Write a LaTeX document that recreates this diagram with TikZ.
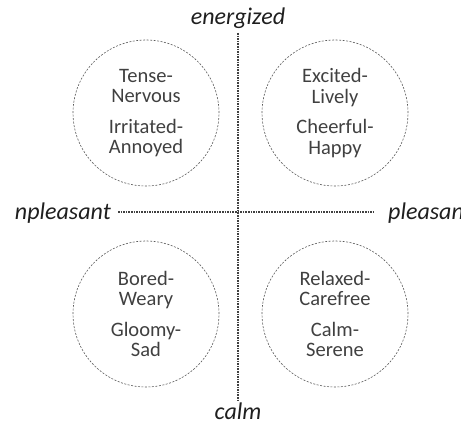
\documentclass[tikz,border=0pt]{standalone}
\usepackage{fontspec}
\setmainfont{Carlito}
\begin{document}
\begin{tikzpicture}[x=1pt,y=-1pt,
  mood/.style={circle,draw=black!65,dashed,dash pattern=on 2pt off 1.5pt,line width=0.6pt,minimum size=146pt,inner sep=0pt,align=center,text=black!75,font=\fontsize{20.5}{20.5}\selectfont},
  axis/.style={draw=black!75,line width=1.3pt,dash pattern=on 1.6pt off 1pt},
  axlabel/.style={text=black!88,font=\fontsize{24}{26}\selectfont\itshape,inner sep=0pt}]
\useasboundingbox (0,0) rectangle (461,425);
\clip (0,0) rectangle (461,425);
\coordinate (top) at (238,33);
\coordinate (bot) at (238,400);
\coordinate (lft) at (118,212);
\coordinate (rgt) at (375,212);
\draw[axis] (top) -- (bot);
\draw[axis] (lft) -- (rgt);
\node[axlabel,anchor=base] (en) at (238,25) {energized};
\node[axlabel,anchor=base] (ca) at (238,419) {calm};
\node[axlabel,anchor=base east] (un) at (111,220) {npleasant};
\node[axlabel,anchor=base west] (pl) at (388,220) {pleasant};
\node[mood] (tl) at (146,113) {Tense-\\Nervous\\[10pt]Irritated-\\Annoyed};
\node[mood] (tr) at (335,113) {Excited-\\Lively\\[10pt]Cheerful-\\Happy};
\node[mood] (bl) at (146,314) {Bored-\\Weary\\[10pt]Gloomy-\\Sad};
\node[mood] (br) at (335,314) {Relaxed-\\Carefree\\[10pt]Calm-\\Serene};
\end{tikzpicture}
\end{document}
